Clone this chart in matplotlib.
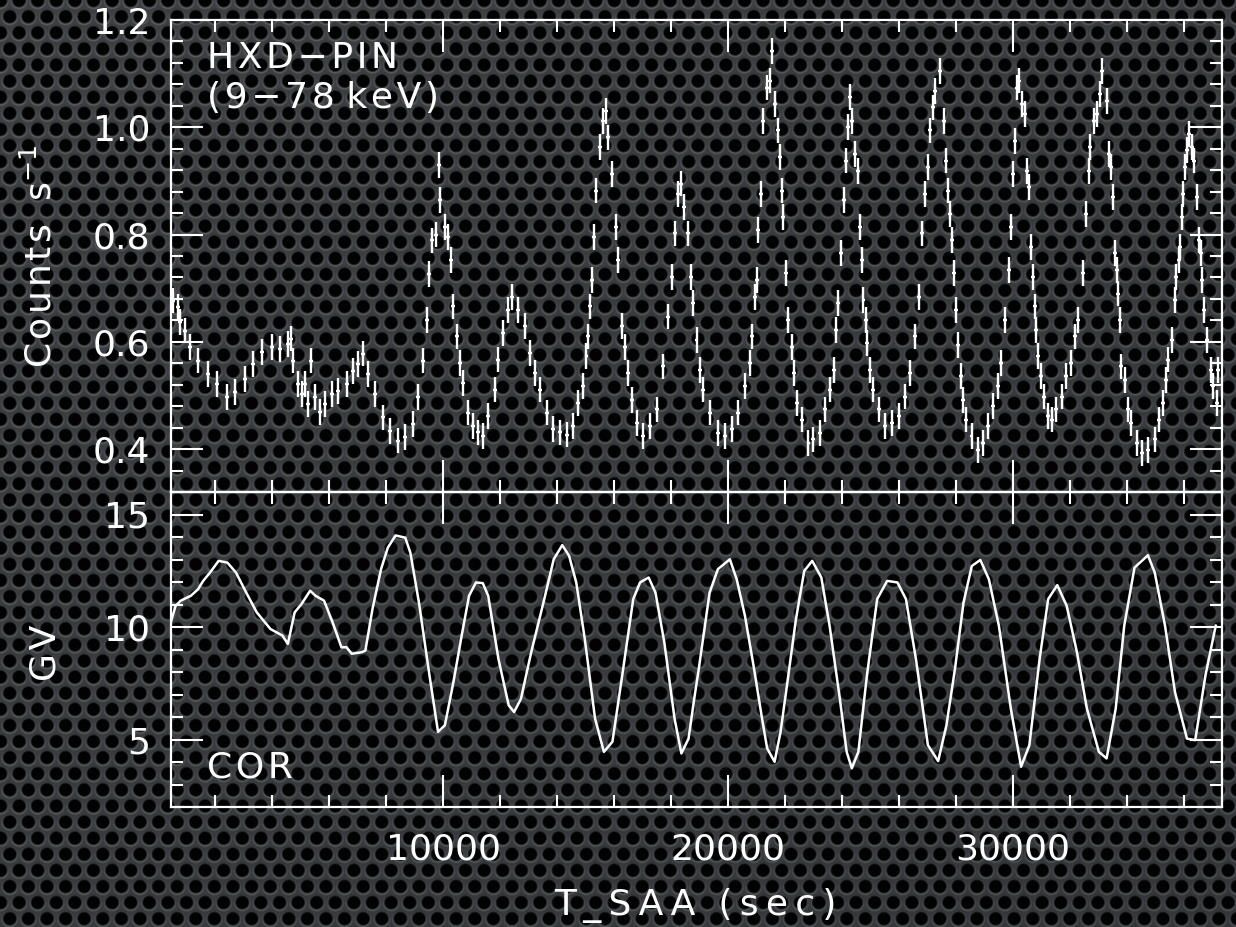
import numpy as np
import matplotlib
matplotlib.use('Agg')
import matplotlib.pyplot as plt
from matplotlib.ticker import MultipleLocator

# HXD-PIN light curve (9-78 keV), T_SAA in sec vs counts/s
t_pin = [530, 710, 770, 940, 1120, 1410, 1760, 2050, 2400, 2700,
         3050, 3340, 3630, 3980, 4280, 4570, 4660, 4740, 4920, 5040,
         5150, 5270, 5350, 5500, 5680, 5850, 6090, 6320, 6620, 6850,
         7020, 7200, 7370, 7610, 7900, 8130, 8430, 8660, 8950, 9130,
         9300, 9420, 9510, 9600, 9740, 9850, 9900,
         10060, 10180, 10270, 10350, 10470, 10590, 10700, 10880, 11050, 11230,
         11400, 11580, 11810, 11930, 12110, 12280, 12420, 12630, 12870, 13040,
         13220, 13390, 13630, 13860, 14100, 14330, 14560, 14740, 14910, 15030,
         15090, 15150, 15210, 15290, 15380, 15500, 15620, 15700, 15790, 15910,
         16050, 16140, 16260, 16380, 16490, 16610, 16790, 17020, 17250, 17490,
         17720, 17900, 18040, 18130, 18250, 18340, 18460, 18580, 18690, 18780,
         18890,
         19000, 19120, 19360, 19650, 19880, 20120, 20350, 20590, 20760, 20850,
         20940, 21000, 21060, 21140, 21230, 21350, 21470, 21550, 21640, 21740,
         21820, 21880, 21940, 22020, 22110, 22230, 22320, 22410, 22580, 22820,
         22990, 23230, 23400, 23580, 23700, 23780, 23870, 23950, 24050, 24130,
         24200, 24280, 24360, 24460, 24540, 24630, 24690, 24750, 24830, 24890,
         24990, 25100, 25280, 25510, 25750, 25980, 26220, 26390, 26570, 26690,
         26800, 26920, 27000, 27100, 27180, 27270, 27450, 27570, 27650, 27720,
         27770, 27840, 27920,
         28010, 28070, 28160, 28250, 28360, 28540, 28770, 28950, 29120, 29300,
         29470, 29590, 29710, 29850, 29920, 30000, 30060, 30120, 30200, 30320,
         30410, 30500, 30560, 30640, 30700, 30760, 30820, 30880, 30970, 31080,
         31230, 31350, 31520, 31700, 31870, 32020, 32170, 32280, 32460, 32570,
         32660, 32710, 32840, 32930, 33040, 33120, 33280, 33360, 33430, 33510,
         33570, 33630, 33690, 33760, 33800, 33920, 34040, 34150, 34330, 34510,
         34740, 34970, 35120, 35270, 35350, 35440, 35560, 35680, 35730, 35820,
         35870, 35910, 35970, 36030, 36110, 36180, 36280, 36350, 36440, 36520,
         36580, 36640, 36690, 36790, 36940, 37020, 37140, 37200]
rate_pin = [0.677, 0.665, 0.637, 0.621, 0.590, 0.565, 0.540, 0.521, 0.497, 0.506,
            0.531, 0.559, 0.581, 0.590, 0.587, 0.596, 0.606, 0.565, 0.521, 0.503,
            0.521, 0.484, 0.565, 0.497, 0.469, 0.484, 0.503, 0.509, 0.521, 0.546,
            0.559, 0.578, 0.540, 0.503, 0.459, 0.434, 0.416, 0.422, 0.447, 0.497,
            0.565, 0.640, 0.727, 0.789, 0.800, 0.930, 0.865,
            0.814, 0.796, 0.752, 0.666, 0.610, 0.560, 0.523, 0.468, 0.443, 0.431,
            0.424, 0.461, 0.511, 0.567, 0.616, 0.660, 0.684, 0.660, 0.629, 0.579,
            0.542, 0.511, 0.468, 0.437, 0.431, 0.427, 0.443, 0.486, 0.517, 0.573,
            0.610, 0.666, 0.715, 0.796, 0.882, 0.963, 1.012, 1.031, 0.981, 0.913,
            0.814, 0.752, 0.629, 0.591, 0.542, 0.492, 0.449, 0.424, 0.443, 0.474,
            0.554, 0.647, 0.721, 0.802, 0.876, 0.895, 0.851, 0.802, 0.721, 0.672,
            0.604,
            0.548, 0.511, 0.468, 0.430, 0.424, 0.437, 0.468, 0.517, 0.560, 0.610,
            0.684, 0.715, 0.808, 0.876, 1.012, 1.074, 1.087, 1.142, 1.043, 0.994,
            0.944, 0.882, 0.833, 0.728, 0.641, 0.591, 0.542, 0.486, 0.455, 0.412,
            0.418, 0.430, 0.474, 0.511, 0.548, 0.622, 0.672, 0.765, 0.864, 0.938,
            1.000, 1.056, 1.012, 0.950, 0.919, 0.814, 0.752, 0.678, 0.641, 0.598,
            0.548, 0.511, 0.474, 0.443, 0.449, 0.461, 0.498, 0.542, 0.610, 0.684,
            0.802, 0.876, 0.926, 0.994, 1.037, 1.068, 1.105, 1.012, 0.938, 0.882,
            0.839, 0.790, 0.728,
            0.660, 0.594, 0.536, 0.492, 0.455, 0.424, 0.399, 0.412, 0.443, 0.480,
            0.517, 0.560, 0.641, 0.734, 0.814, 0.913, 0.975, 1.074, 1.087, 1.043,
            1.025, 0.919, 0.889, 0.777, 0.721, 0.666, 0.622, 0.573, 0.536, 0.498,
            0.461, 0.455, 0.474, 0.498, 0.536, 0.560, 0.610, 0.641, 0.728, 0.839,
            0.919, 0.963, 1.012, 1.025, 1.062, 1.105, 1.049, 0.950, 0.926, 0.870,
            0.765, 0.734, 0.690, 0.641, 0.554, 0.529, 0.474, 0.449, 0.412, 0.393,
            0.399, 0.418, 0.455, 0.486, 0.529, 0.567, 0.604, 0.678, 0.721, 0.752,
            0.777, 0.833, 0.876, 0.926, 0.957, 0.988, 0.963, 0.938, 0.870, 0.790,
            0.765, 0.715, 0.660, 0.604, 0.548, 0.517, 0.486, 0.548]
pin_err = 0.024
pin_halfbin = 70

# COR (cut-off rigidity) in GV
t_cor = [425, 610, 790, 1150, 1400, 1580, 1820, 2120, 2430, 2730,
         3090, 3460, 3940, 4360, 4550, 4790, 5030, 5330, 5520, 5820,
         6120, 6430, 6610, 6790, 7150, 7270, 7520, 7820, 8060, 8330,
         8670, 8850, 9150, 9520, 9820, 10060, 10360, 10670, 10910, 11150,
         11390, 11580, 11940, 12300, 12490, 12730, 13090, 13520, 13880, 14180,
         14420, 14670, 14970, 15330, 15640, 15940, 16300, 16670, 16910, 17210,
         17450, 17760, 18120, 18360, 18610, 18810, 18970, 19350, 19640, 20060,
         20300, 20590, 20890, 21190, 21370, 21630, 21840, 22080, 22380, 22670,
         22950, 23270, 23560, 23920, 24160, 24340, 24570, 24870, 25230, 25580,
         25940, 26240, 26590, 27010, 27370, 27660, 27960, 28260, 28550, 28850,
         29150, 29500, 29920, 30280, 30570, 30930, 31230, 31550, 31880, 32240,
         32590, 33010, 33280, 33600, 33900, 34260, 34730, 34970, 35330, 35680,
         36100, 36390, 36750, 37110]
gv_cor = [10.13, 10.94, 11.17, 11.39, 11.68, 12.05, 12.42, 12.94, 12.86, 12.42,
          11.53, 10.65, 9.91, 9.62, 9.25, 10.65, 11.02, 11.61, 11.39, 11.17,
          10.21, 9.10, 9.10, 8.81, 8.88, 8.95, 10.80, 12.57, 13.53, 14.07,
          13.97, 13.30, 11.09, 7.85, 5.34, 5.63, 7.55, 9.76, 11.39, 11.98,
          11.95, 11.39, 8.58, 6.52, 6.22, 6.81, 8.88, 11.09, 13.01, 13.64,
          13.16, 11.98, 9.47, 5.93, 4.45, 4.90, 7.99, 11.24, 11.98, 12.20,
          11.53, 9.32, 5.93, 4.38, 5.04, 6.81, 8.14, 11.53, 12.57, 13.01,
          12.12, 10.50, 8.29, 5.93, 4.60, 4.01, 5.34, 7.55, 10.35, 12.49,
          12.94, 12.20, 10.06, 6.81, 4.45, 3.72, 4.45, 7.85, 11.24, 12.05,
          11.98, 11.24, 8.58, 4.75, 4.04, 5.63, 8.14, 11.09, 12.71, 12.98,
          12.12, 10.06, 6.37, 3.79, 4.75, 8.58, 11.24, 11.86, 10.94, 8.88,
          6.37, 4.45, 4.16, 6.37, 10.06, 12.64, 13.19, 12.42, 10.06, 7.11,
          5.04, 4.97, 7.85, 10.06]

# perforated metal background
W, H = 1236, 927
yy, xx = np.mgrid[0:H, 0:W].astype(float)
p = 18.6
r = p * np.sqrt(3) / 2
def hole_dist(ox, oy):
    dx = ((xx - ox + p / 2) % p) - p / 2
    dy = ((yy - oy + r) % (2 * r)) - r
    return np.hypot(dx, dy), dy
d1, dy1 = hole_dist(0, 0)
d2, dy2 = hole_dist(p / 2, r)
d = np.minimum(d1, d2)
dy = np.where(d1 < d2, dy1, dy2)
shade = np.clip((d - 5.6) / 1.8, 0, 1)
rim = np.exp(-((d - 7.8) / 1.1) ** 2) * (0.45 + 0.55 * np.clip(dy / 7, -1, 1))
base = np.array([0.23, 0.24, 0.255])
vign = 1.0 - 0.15 * ((xx / W) * 0.5 + (yy / H) * 0.5)
img = (base[None, None, :] * shade[..., None] + 0.11 * rim[..., None]) * vign[..., None]
img = np.clip(img + 0.008, 0, 1)

plt.rcParams['font.family'] = ['DejaVu Sans']
plt.rcParams['mathtext.default'] = 'regular'

fig = plt.figure(figsize=(12.36, 9.27), dpi=100)
bg = fig.add_axes([0, 0, 1, 1], zorder=-10)
bg.imshow(img, aspect='auto', interpolation='bilinear')
bg.axis('off')

L, R = 171 / W, 1222 / W
top_ax = fig.add_axes([L, 1 - 492 / H, R - L, (492 - 20) / H])
bot_ax = fig.add_axes([L, 1 - 807 / H, R - L, (807 - 492) / H])

top_ax.errorbar(t_pin, rate_pin, yerr=pin_err, xerr=pin_halfbin, fmt='none',
                ecolor='white', elinewidth=1.7, capsize=0)
bot_ax.plot(t_cor, gv_cor, color='white', lw=1.8)

for ax in (top_ax, bot_ax):
    ax.set_facecolor('none')
    ax.set_xlim(450, 37330)
    for s in ax.spines.values():
        s.set_color('white')
        s.set_linewidth(1.6)
    ax.xaxis.set_major_locator(MultipleLocator(10000))
    ax.xaxis.set_minor_locator(MultipleLocator(2000))
    ax.tick_params(which='both', direction='in', top=True, right=True,
                   colors='white', width=1.5, labelsize=26)
    ax.tick_params(which='major', length=23)
    ax.tick_params(which='minor', length=8.5)
    ax.tick_params(axis='y', pad=15)
    ax.tick_params(axis='x', pad=18)

top_ax.set_ylim(0.32, 1.2)
top_ax.yaxis.set_major_locator(MultipleLocator(0.2))
top_ax.yaxis.set_minor_locator(MultipleLocator(0.04))
top_ax.tick_params(labelbottom=False)

bot_ax.set_ylim(2, 16)
bot_ax.yaxis.set_major_locator(MultipleLocator(5))
bot_ax.yaxis.set_minor_locator(MultipleLocator(1))

hs = '\u200a'
ts = '\u2009'
fig.text(207 / W, 1 - 68 / H, hs.join('HXD\u2212PIN'), color='white', fontsize=26)
fig.text(207 / W, 1 - 108 / H, hs.join('(9\u221278') + ' ' + hs.join('keV)'),
         color='white', fontsize=26)
fig.text(207 / W, 1 - 778 / H, hs.join('COR'), color='white', fontsize=26)
fig.text(695 / W, 1 - 915 / H, ts.join('T_SAA') + '  ' + ts.join('(sec)'),
         color='white', fontsize=26, ha='center')
fig.text(40 / W, 1 - 256 / H, hs.join('Counts') + '  s$^{\u22121}$', color='white',
         fontsize=26, rotation=90, ha='center', va='center')
fig.text(45 / W, 1 - 653 / H, hs.join('GV'), color='white', fontsize=26,
         rotation=90, ha='center', va='center')

fig.savefig('out.png', dpi=100)
